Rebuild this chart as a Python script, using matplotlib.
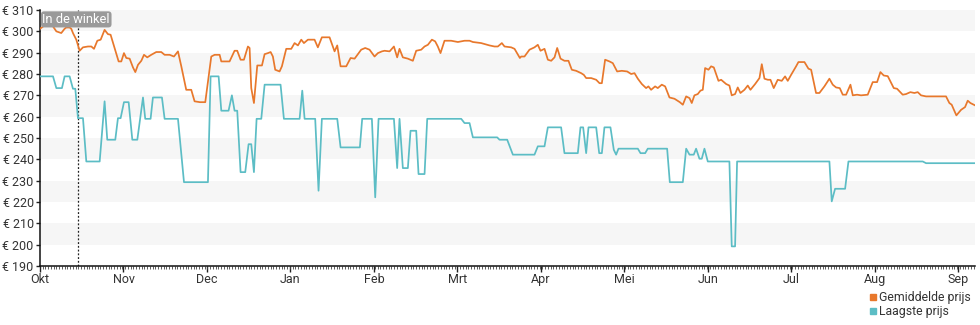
import matplotlib
matplotlib.use("Agg")
import matplotlib.pyplot as plt
from matplotlib.lines import Line2D
import numpy as np

plt.rcParams['font.family'] = ['Roboto', 'DejaVu Sans']

# x positions are in months since the start of October
month_labels = ["Okt", "Nov", "Dec", "Jan", "Feb", "Mrt", "Apr", "Mei", "Jun", "Jul", "Aug", "Sep"]

avg_t = [0.000, 0.056, 0.116, 0.156, 0.196, 0.255, 0.295, 0.315, 0.355, 0.375, 0.395, 0.435,
         0.475, 0.515, 0.575, 0.615, 0.647, 0.687, 0.727, 0.774, 0.814, 0.846, 0.894, 0.942,
         0.974, 1.006, 1.034, 1.074, 1.114, 1.142, 1.174, 1.214, 1.246, 1.285, 1.333, 1.393,
         1.453, 1.493, 1.553, 1.605, 1.653, 1.693, 1.752, 1.812, 1.852, 1.916,
         1.980, 2.052, 2.092, 2.152, 2.172, 2.271, 2.331, 2.363, 2.403, 2.443, 2.491, 2.511,
         2.531, 2.563, 2.603, 2.659, 2.691, 2.731, 2.763, 2.790, 2.818, 2.870, 2.898, 2.950,
         3.010, 3.050, 3.090, 3.130, 3.162, 3.210, 3.250, 3.289, 3.329, 3.377, 3.469, 3.529,
         3.561, 3.601, 3.669, 3.721, 3.769, 3.832,
         3.848, 3.896, 3.948, 4.008, 4.048, 4.096, 4.128, 4.188, 4.240, 4.279, 4.307, 4.347,
         4.407, 4.467, 4.507, 4.567, 4.607, 4.647, 4.695, 4.734, 4.766, 4.798, 4.846, 4.926,
         5.006, 5.086, 5.146, 5.186, 5.285, 5.385, 5.445, 5.485, 5.533, 5.565, 5.645, 5.685,
         5.749,
         5.764, 5.804, 5.864, 5.924, 5.964, 5.996, 6.044, 6.084, 6.124, 6.164, 6.196, 6.236,
         6.283, 6.331, 6.371, 6.423, 6.483, 6.515, 6.543, 6.603, 6.663, 6.703, 6.731, 6.770,
         6.822, 6.862, 6.914, 6.970, 7.034, 7.082, 7.122, 7.162, 7.210, 7.261, 7.289, 7.321,
         7.369, 7.401, 7.449, 7.489, 7.541, 7.601, 7.665,
         7.701, 7.741, 7.781, 7.808, 7.840, 7.880, 7.912, 7.940, 7.968, 8.008, 8.040, 8.072,
         8.128, 8.160, 8.220, 8.259, 8.287, 8.327, 8.359, 8.391, 8.439, 8.479, 8.511, 8.567,
         8.619, 8.647, 8.679, 8.719, 8.751, 8.790, 8.838, 8.886, 8.926, 8.958, 8.998, 9.058,
         9.086, 9.158, 9.206, 9.238, 9.297, 9.337, 9.397, 9.457, 9.497, 9.537, 9.581,
         9.617, 9.657, 9.709, 9.737, 9.788, 9.836, 9.916, 9.976, 10.028, 10.068, 10.108,
         10.156, 10.228, 10.267, 10.335, 10.375, 10.427, 10.475, 10.515, 10.555, 10.615,
         10.754, 10.854, 10.894, 10.922, 10.978, 11.034, 11.082, 11.114, 11.146, 11.202]

avg_price = [301.2, 302.8, 303.1, 302.3, 300.0, 299.2, 301.2, 301.8, 301.8, 301.2, 299.2, 296.1,
             290.9, 292.5, 292.9, 292.9, 291.8, 295.6, 296.1, 300.7, 298.7, 298.4, 292.2, 285.9,
             285.9, 289.8, 287.5, 287.2, 283.1, 280.9, 284.3, 286.2, 289.0, 287.8, 289.0, 290.3,
             290.3, 289.0, 289.0, 288.2, 290.6, 283.6, 272.6, 272.6, 267.2, 266.8,
             266.8, 288.2, 289.0, 289.0, 285.9, 285.9, 290.9, 290.9, 286.7, 286.7, 292.9, 292.2,
             273.4, 266.4, 284.0, 284.0, 289.3, 289.8, 290.3, 288.2, 282.0, 281.2, 283.6, 291.8,
             291.8, 294.5, 293.4, 296.1, 294.5, 296.1, 296.1, 296.1, 292.5, 297.2, 297.2, 290.6,
             293.4, 283.6, 283.6, 287.5, 287.2, 290.6,
             291.4, 292.2, 291.4, 288.2, 289.8, 290.6, 290.9, 290.6, 292.9, 287.8, 291.8, 287.8,
             287.2, 286.2, 290.9, 291.4, 292.9, 293.7, 296.1, 295.3, 292.9, 289.8, 295.6, 295.6,
             295.0, 295.6, 295.6, 295.0, 294.5, 293.4, 292.9, 292.9, 294.5, 292.9, 292.5, 291.8,
             287.5,
             288.2, 288.2, 291.4, 292.5, 293.7, 290.9, 291.8, 286.7, 286.2, 287.8, 292.2, 287.2,
             286.2, 286.2, 282.0, 281.5, 280.4, 279.6, 278.1, 278.1, 277.3, 275.7, 275.7, 286.7,
             285.9, 285.1, 281.2, 281.5, 281.2, 280.0, 280.4, 277.8, 275.3, 273.4, 274.2, 272.6,
             274.2, 273.4, 275.0, 274.2, 269.0, 268.4, 266.8,
             265.6, 269.5, 268.7, 266.4, 270.0, 270.6, 272.2, 272.6, 282.8, 282.0, 283.6, 283.1,
             276.8, 277.3, 275.3, 274.6, 270.0, 270.6, 273.7, 271.1, 272.6, 274.6, 272.6, 275.3,
             278.1, 284.6, 277.8, 277.3, 277.3, 273.4, 277.3, 276.8, 278.9, 276.8, 279.6, 283.6,
             285.6, 285.6, 282.5, 282.0, 271.1, 271.1, 274.2, 277.8, 275.0, 273.7, 273.4,
             270.3, 270.3, 275.0, 270.0, 270.3, 270.0, 270.3, 276.2, 276.2, 280.9, 279.3,
             279.0, 273.4, 273.1, 270.3, 270.6, 271.5, 271.1, 271.5, 270.0, 269.5,
             269.5, 269.5, 266.4, 265.6, 260.6, 263.2, 264.5, 267.5, 266.4, 265.3]

low_t = [0.000, 0.156, 0.196, 0.263, 0.295, 0.355, 0.395, 0.423, 0.455, 0.515, 0.555, 0.715,
         0.774, 0.806, 0.902, 0.934, 0.966, 1.006, 1.062, 1.106, 1.166, 1.234, 1.261, 1.325,
         1.353, 1.461, 1.493, 1.653, 1.725, 1.916,
         2.012, 2.044, 2.140, 2.172, 2.259, 2.299, 2.331, 2.363, 2.403, 2.459, 2.499, 2.531,
         2.563, 2.595, 2.651, 2.691, 2.882, 2.922, 3.110, 3.142, 3.170, 3.297, 3.337, 3.377,
         3.561, 3.601, 3.832,
         3.860, 3.976, 4.016, 4.056, 4.240, 4.279, 4.307, 4.347, 4.407, 4.439, 4.507, 4.535,
         4.607, 4.639, 5.046, 5.086, 5.146, 5.186, 5.477, 5.505, 5.597, 5.665,
         5.924, 5.964, 6.044, 6.084, 6.243, 6.283, 6.443, 6.475, 6.507, 6.543, 6.571, 6.663,
         6.699, 6.731, 6.762, 6.834, 6.874, 6.902, 6.930, 7.162, 7.194, 7.250, 7.281, 7.513,
         7.545,
         7.701, 7.741, 7.781, 7.832, 7.860, 7.900, 7.928, 7.960, 8.000, 8.259, 8.287, 8.327,
         8.351, 9.457, 9.485, 9.525,
         9.645, 9.685, 10.575, 10.615, 11.202]

low_price = [278.9, 278.9, 273.4, 273.4, 278.9, 278.9, 273.1, 273.1, 259.3, 259.3, 239.0, 239.0,
             267.2, 249.2, 249.2, 259.3, 259.3, 266.8, 266.8, 249.2, 249.2, 269.0, 259.0, 259.0,
             269.0, 269.0, 259.0, 259.0, 229.3, 229.3,
             229.3, 278.9, 278.9, 262.8, 262.8, 270.0, 262.8, 262.8, 234.0, 234.0, 247.1, 247.1,
             234.0, 259.0, 259.0, 275.0, 275.0, 259.0, 259.0, 272.2, 259.0, 259.0, 225.3, 259.0,
             259.0, 245.6, 245.6,
             259.0, 259.0, 222.2, 259.0, 259.0, 235.9, 259.0, 235.9, 235.9, 253.4, 253.4, 233.1,
             233.1, 259.0, 259.0, 257.0, 257.0, 250.3, 250.3, 249.2, 249.2, 242.2,
             242.2, 246.1, 246.1, 255.0, 255.0, 242.9, 242.9, 255.0, 255.0, 242.9, 255.0, 255.0,
             242.9, 242.9, 255.0, 255.0, 244.5, 242.2, 245.0, 245.0, 242.9, 242.9, 245.0, 245.0,
             229.3,
             229.3, 245.0, 242.2, 242.2, 245.0, 240.3, 240.3, 245.0, 239.0, 239.0, 199.2, 199.2,
             239.0, 239.0, 220.3, 226.2,
             226.2, 239.0, 239.0, 238.2, 238.2]

in_store_t = 0.455

ORANGE = "#e8782c"
TEAL = "#5cbdc5"
TEXT = "#333333"

fig = plt.figure(figsize=(9.8, 3.25), dpi=100)
ax = fig.add_axes([0.0408, 0.1815, 0.954, 0.7877])

# alternating horizontal bands
for lo in range(200, 310, 20):
    ax.axhspan(lo, lo + 10, color="#f6f6f6", lw=0, zorder=0)

ax.plot(avg_t, avg_price, color=ORANGE, lw=1.25, zorder=3)
ax.plot(low_t, low_price, color=TEAL, lw=1.25, zorder=3)

ax.axvline(in_store_t, color="#222222", lw=0.9, ls=(0, (1.5, 1.5)), zorder=2)
ax.text(0.03, 305.6, "In de winkel", color="white", fontsize=9.3, va="center", ha="left",
        zorder=5,
        bbox=dict(boxstyle="round,pad=0.12,rounding_size=0.25", fc="#9a9a9a", ec="none"))

ax.set_xlim(0, 11.2)
ax.set_ylim(190, 310)
ax.set_yticks(range(190, 311, 10))
ax.set_yticklabels([f"€ {v}" for v in range(190, 311, 10)])
ax.set_xticks(range(len(month_labels)))
ax.set_xticklabels(month_labels)
ax.set_xticks(np.arange(0, 11.2, 1 / 30.4), minor=True)

ax.tick_params(axis="y", length=3, width=1, pad=1.5, labelsize=9, colors="#222222",
               labelcolor=TEXT)
ax.tick_params(axis="x", which="major", length=4, width=1, pad=1, labelsize=9,
               colors="#222222", labelcolor=TEXT)
ax.tick_params(axis="x", which="minor", length=2, width=0.6, colors="#444444")

for side in ("top", "right"):
    ax.spines[side].set_visible(False)
for side in ("left", "bottom"):
    ax.spines[side].set_color("#111111")
    ax.spines[side].set_linewidth(1.1)

handles = [Line2D([], [], marker="s", ls="none", color=ORANGE, markersize=5),
           Line2D([], [], marker="s", ls="none", color=TEAL, markersize=5)]
fig.legend(handles, ["Gemiddelde prijs", "Laagste prijs"], loc="lower right",
           bbox_to_anchor=(0.999, -0.005), frameon=False, fontsize=8.8,
           handletextpad=0.05, handlelength=0.8, labelspacing=0.1, borderpad=0.2,
           labelcolor=TEXT)

fig.savefig("out.png", dpi=100)
